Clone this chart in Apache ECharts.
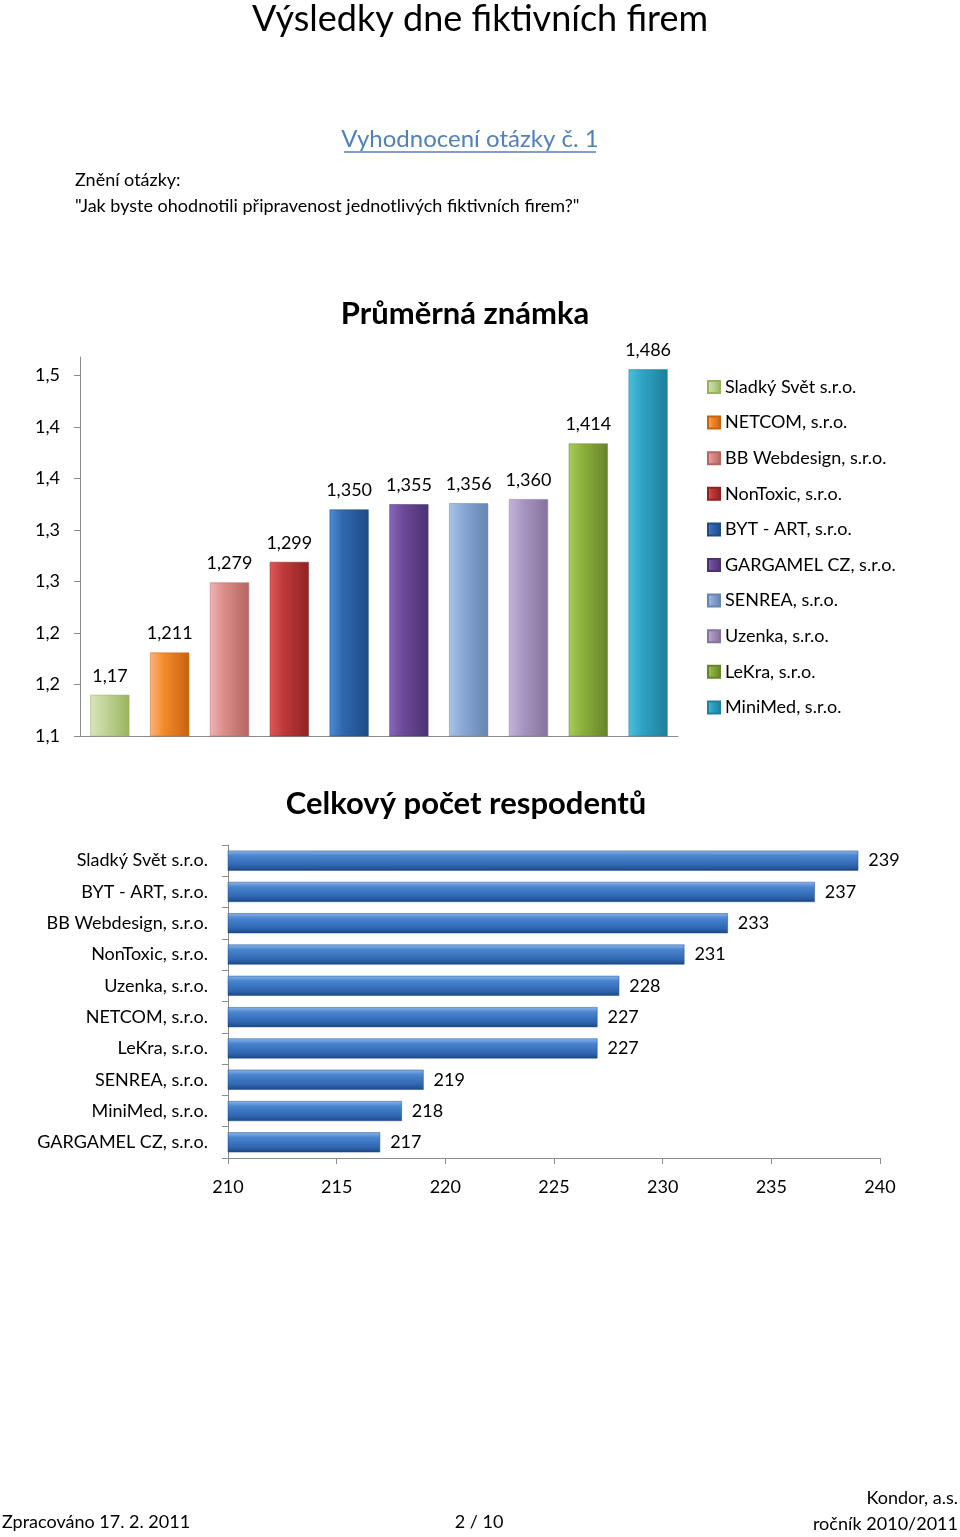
<!DOCTYPE html>
<html><head><meta charset="utf-8">
<script src="https://cdn.jsdelivr.net/npm/echarts@6/dist/echarts.min.js"></script>
<style>html,body{margin:0;padding:0;background:#fff}#c{width:960px;height:1537px}</style>
</head><body><div id="c"></div>
<script>
// ---- data ----
const companies = ['Sladký Svět s.r.o.', 'NETCOM, s.r.o.', 'BB Webdesign, s.r.o.', 'NonToxic, s.r.o.', 'BYT - ART, s.r.o.', 'GARGAMEL CZ, s.r.o.', 'SENREA, s.r.o.', 'Uzenka, s.r.o.', 'LeKra, s.r.o.', 'MiniMed, s.r.o.'];
const avgGrades = [1.17, 1.211, 1.279, 1.299, 1.350, 1.355, 1.356, 1.360, 1.414, 1.486];
const avgLabels = ['1,17', '1,211', '1,279', '1,299', '1,350', '1,355', '1,356', '1,360', '1,414', '1,486'];
const avgTicks = [1.13, 1.18, 1.23, 1.28, 1.33, 1.38, 1.43, 1.48];

const respCategories = ['Sladký Svět s.r.o.', 'BYT - ART, s.r.o.', 'BB Webdesign, s.r.o.', 'NonToxic, s.r.o.', 'Uzenka, s.r.o.', 'NETCOM, s.r.o.', 'LeKra, s.r.o.', 'SENREA, s.r.o.', 'MiniMed, s.r.o.', 'GARGAMEL CZ, s.r.o.'];
const respCounts = [239, 237, 233, 231, 228, 227, 227, 219, 218, 217];
const respTicks = [210, 215, 220, 225, 230, 235, 240];

// ---- styles ----
const FONT = 'Lato, "Open Sans", sans-serif';
const palette = [
  ['#d7e4bd', '#c3d69b', '#98b35e'],
  ['#fab27a', '#f38b2c', '#c8620f'],
  ['#eeb4b2', '#da8e8c', '#b56562'],
  ['#dc5a57', '#c0393a', '#8e2322'],
  ['#4f8ad1', '#2e67b0', '#1f4b86'],
  ['#8a67b8', '#6c4a98', '#4d3272'],
  ['#a9c3e6', '#8aa8d6', '#6684b0'],
  ['#c3b5d6', '#a896c2', '#85739e'],
  ['#a6cc5a', '#8cb03c', '#66842a'],
  ['#4cc0dc', '#2fa3c4', '#1e7f9b']
];
function grad(c) {
  return new echarts.graphic.LinearGradient(0, 0, 1, 0, [
    { offset: 0, color: c[0] }, { offset: 0.35, color: c[1] }, { offset: 1, color: c[2] }
  ]);
}

const chart = echarts.init(document.getElementById('c'), null, { renderer: 'canvas' });

const colSeries = companies.map((name, i) => ({
  name: name,
  type: 'bar',
  stack: 'one',
  xAxisIndex: 0, yAxisIndex: 0,
  barWidth: 39,
  data: avgGrades.map((v, j) => (j === i ? v : null)),
  itemStyle: { color: grad(palette[i]), borderColor: palette[i][2], borderWidth: 0.5 },
  label: {
    show: true, position: 'top', distance: 10,
    fontFamily: FONT, fontSize: 18, color: '#000',
    formatter: () => avgLabels[i]
  }
}));

const barSeries = {
  name: 'Celkový počet respodentů',
  type: 'bar',
  xAxisIndex: 1, yAxisIndex: 1,
  barWidth: 20,
  data: respCounts,
  itemStyle: {
    color: new echarts.graphic.LinearGradient(0, 0, 0, 1, [
      { offset: 0, color: '#8cb6ea' }, { offset: 0.25, color: '#4a85d0' },
      { offset: 0.75, color: '#2f66b0' }, { offset: 1, color: '#1c4784' }
    ]),
    borderColor: '#1e4a86', borderWidth: 0.5
  },
  label: { show: true, position: 'right', distance: 10, fontFamily: FONT, fontSize: 18, color: '#000' }
};

const axisLineStyle = { color: '#8c8c8c', width: 1 };

chart.setOption({
  animation: false,
  backgroundColor: '#ffffff',
  textStyle: { fontFamily: FONT },
  title: [
    { text: 'Průměrná známka', left: 460, top: 293, textAlign: 'center',
      textStyle: { fontFamily: FONT, fontSize: 31, fontWeight: 'bold', color: '#000' } },
    { text: 'Celkový počet respodentů', left: 461, top: 783, textAlign: 'center',
      textStyle: { fontFamily: FONT, fontSize: 31, fontWeight: 'bold', color: '#000' } }
  ],
  legend: {
    orient: 'vertical', left: 702, top: 372,
    itemWidth: 12, itemHeight: 12, itemGap: 15.6,
    icon: 'rect',
    textStyle: { fontFamily: FONT, fontSize: 18, color: '#000', lineHeight: 20 },
    data: companies
  },
  grid: [
    { left: 80, top: 357, width: 598, height: 379 },
    { left: 228, top: 845, width: 652, height: 313 }
  ],
  xAxis: [
    { type: 'category', gridIndex: 0, data: companies,
      axisLabel: { show: false }, axisTick: { show: false },
      axisLine: { lineStyle: axisLineStyle } },
    { type: 'value', gridIndex: 1, min: 210, max: 240, interval: 5,
      splitLine: { show: false },
      axisLine: { show: true, lineStyle: axisLineStyle },
      axisTick: { show: true, length: 6, lineStyle: axisLineStyle },
      axisLabel: { fontFamily: FONT, fontSize: 18, color: '#000', margin: 20,
        customValues: respTicks } }
  ],
  yAxis: [
    { type: 'value', gridIndex: 0, min: 1.13, max: 1.498,
      splitLine: { show: false },
      axisLine: { show: true, lineStyle: axisLineStyle },
      axisTick: { show: true, length: 6, lineStyle: axisLineStyle, customValues: avgTicks },
      axisLabel: { fontFamily: FONT, fontSize: 18, color: '#000', margin: 20,
        customValues: avgTicks,
        formatter: v => v.toFixed(1).replace('.', ',') } },
    { type: 'category', gridIndex: 1, data: respCategories, inverse: true,
      axisLine: { show: true, lineStyle: axisLineStyle },
      axisTick: { show: true, length: 6, lineStyle: axisLineStyle },
      axisLabel: { fontFamily: FONT, fontSize: 18, color: '#000', margin: 20 } }
  ],
  series: colSeries.concat([barSeries]),
  graphic: [
    { type: 'text', left: 'center', top: 1,
      style: { text: 'Výsledky dne fiktivních firem', font: '36px ' + FONT, fill: '#000' } },
    { type: 'text', x: 470, y: 139,
      style: { text: 'Vyhodnocení otázky č. 1', font: '24px ' + FONT, fill: '#4f81bd', align: 'center', verticalAlign: 'middle' } },
    { type: 'line', shape: { x1: 344, y1: 152, x2: 596, y2: 152 }, style: { stroke: '#4f81bd', lineWidth: 1.5 } },
    { type: 'text', x: 75, y: 180,
      style: { text: 'Znění otázky:', font: '18px ' + FONT, fill: '#000', verticalAlign: 'middle' } },
    { type: 'text', x: 75, y: 206,
      style: { text: '"Jak byste ohodnotili připravenost jednotlivých fiktivních firem?"', font: '18px ' + FONT, fill: '#000', verticalAlign: 'middle' } },
    { type: 'text', x: 2, y: 1522,
      style: { text: 'Zpracováno 17. 2. 2011', font: '18px ' + FONT, fill: '#000', verticalAlign: 'middle' } },
    { type: 'text', x: 479, y: 1522,
      style: { text: '2 / 10', font: '18px ' + FONT, fill: '#000', align: 'center', verticalAlign: 'middle' } },
    { type: 'text', x: 958, y: 1498,
      style: { text: 'Kondor, a.s.', font: '18px ' + FONT, fill: '#000', align: 'right', verticalAlign: 'middle' } },
    { type: 'text', x: 958, y: 1524,
      style: { text: 'ročník 2010/2011', font: '18px ' + FONT, fill: '#000', align: 'right', verticalAlign: 'middle' } }
  ]
});
</script>
</body></html>
